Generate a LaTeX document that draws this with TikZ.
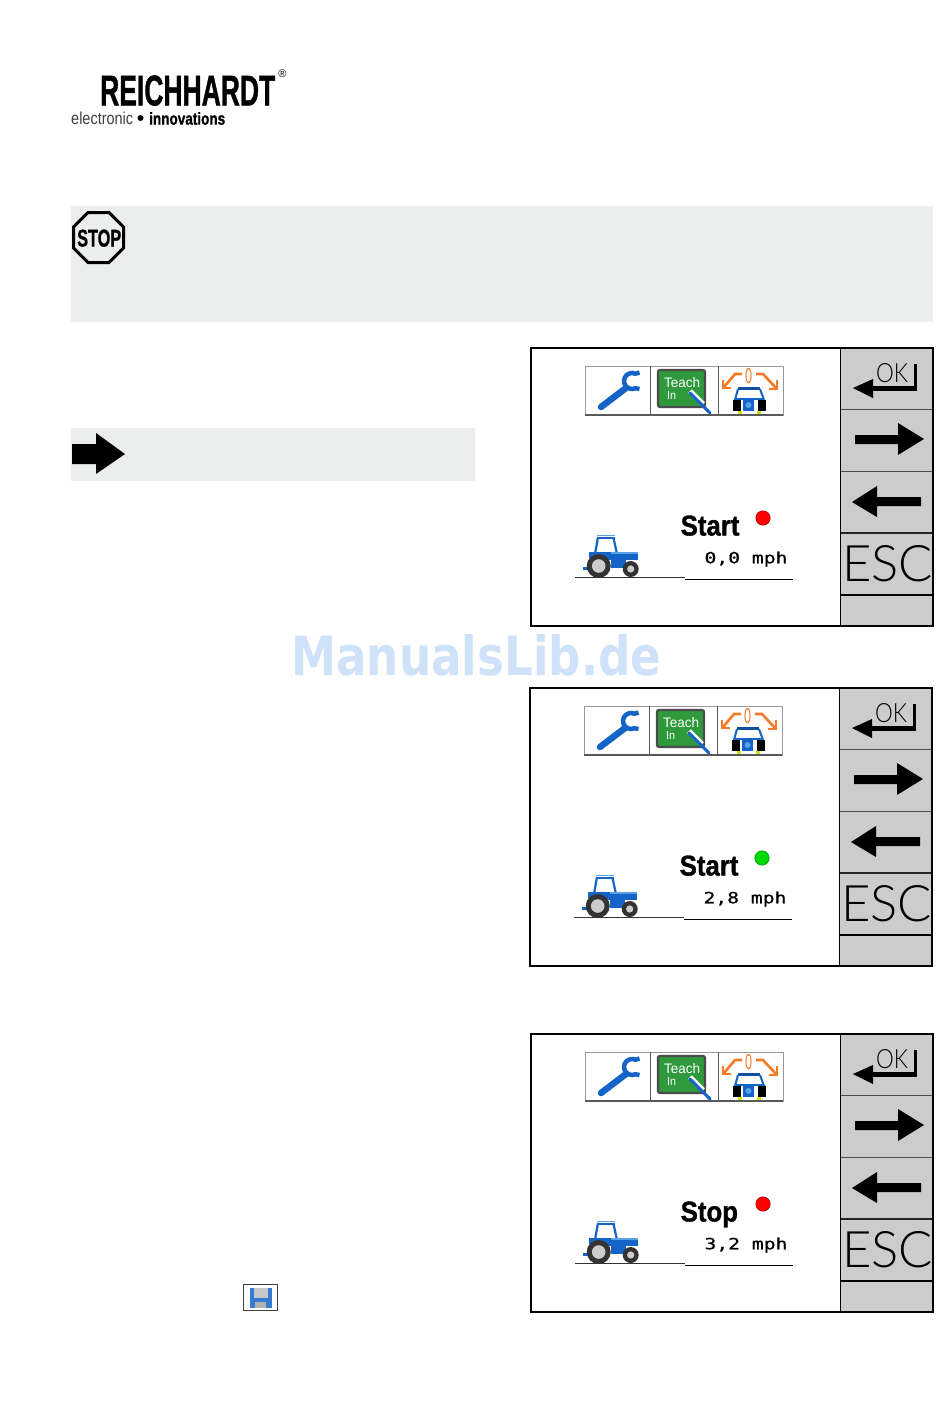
\documentclass[tikz,border=0pt]{standalone}
\usepackage{fontspec}
\usepackage{graphicx}
\usepackage{xcolor}
\setmainfont{Liberation Sans}
\newfontfamily\markfont{DejaVu Sans}
\newfontfamily\monofont[FakeBold=0.6]{DejaVu Sans Mono}
\newfontfamily\thinfont{Lato Light}
\newfontfamily\heavyfont[FakeBold=1.2]{Liberation Sans Bold}
\definecolor{bandgrey}{HTML}{ECEEEE}
\definecolor{keygrey}{HTML}{CCCCCC}
\definecolor{toolblue}{HTML}{1464C8}
\definecolor{lightblue}{HTML}{5AA0E6}
\definecolor{boardgreen}{HTML}{2E9A3C}
\definecolor{tiltorange}{HTML}{F57A28}
\definecolor{markblue}{HTML}{CFE2FA}
\tikzset{
  txt/.style={inner sep=0pt, anchor=south west},
  band/.style={fill=bandgrey, draw=none},
  key/.style={fill=keygrey, draw=none},
  keyline/.style={draw=black!70, line width=1pt},
  keyarrow/.style={fill=black, draw=none},
  tiltarrow/.style={draw=tiltorange, line width=2.6pt, line join=miter}
}
\newcommand{\screenpanel}[6]{
  \begin{scope}[shift={(#1,#2)}, name prefix=#6-]
    \fill[white] (0,0) rectangle (402,278);
    \fill[key] (309,0) rectangle (402,278);
    \draw[keyline] (309,61) -- (402,61);
    \draw[keyline] (309,123) -- (402,123);
    \draw[keyline, line width=1.5pt, draw=black!85] (309,185) -- (402,185);
    \draw[black, line width=2.5pt] (309,247) -- (402,247);
    \draw[black, line width=1pt] (309,0) -- (309,278);
    \draw[black, line width=2pt] (0,0) rectangle (402,278);
    % ok key
    \node[txt] (ok) at (345,35) {\resizebox{32pt}{19pt}{\thinfont OK}};
    \draw[black, line width=2.5pt] (384.5,16) -- (384.5,40);
    \draw[black, line width=5pt] (386,40) -- (340,40);
    \fill[keyarrow] (322,40) -- (342,31) -- (342,50) -- cycle;
    % arrow keys
    \fill[keyarrow] (324,87) -- (367,87) -- (367,75) -- (393,91) -- (367,107) -- (367,96) -- (324,96) -- cycle;
    \fill[keyarrow] (390,149) -- (346,149) -- (346,138) -- (321,154) -- (346,169) -- (346,158) -- (390,158) -- cycle;
    \node[txt] (esc) at (311,234) {\resizebox{91pt}{36pt}{\thinfont ESC}};
    % icon bar
    \fill[white] (54,18) rectangle (252,67);
    \draw[black!40, line width=1pt] (54,18) rectangle (252,67);
    \draw[black!65, line width=1.5pt] (54,67) -- (252,67);
    \draw[black!65, line width=1pt] (119,18) -- (119,67);
    \draw[black!65, line width=1pt] (187,18) -- (187,67);
    % wrench
    \draw[toolblue, line width=6.5pt, line cap=round] (70,59) -- (95,40);
    \draw[toolblue, line width=4.5pt] (108.5,24.5) -- (104.4,25.75) arc (-65:-295:8) -- (108.5,41);
    % teach in board
    \draw[black!70, fill=boardgreen, line width=2.2pt, rounded corners=2pt] (127,22) rectangle (174,59);
    \node[txt] (teach) at (133,40) {\resizebox{36pt}{10pt}{\color{white}Teach}};
    \node[txt] (in) at (136,52) {\resizebox{9pt}{8pt}{\color{white}In}};
    \draw[white, line width=5pt] (159,43) -- (172,56);
    \draw[toolblue, line width=3pt, line cap=round] (159,45) -- (179,65);
    % tilt icon
    \node[inner sep=0pt] (zero) at (217.5,28.5) {\resizebox{7pt}{15pt}{\color{tiltorange}0}};
    \draw[tiltarrow] (211,26) -- (204,26) -- (193,39);
    \draw[tiltarrow] (192,32) -- (192,40) -- (200,40);
    \draw[tiltarrow] (225,26) -- (232,26) -- (245,40);
    \draw[tiltarrow] (246,32) -- (246,41) -- (238,41);
    \fill[toolblue!80!black] (207,39) rectangle (229,42);
    \draw[toolblue, line width=2pt] (204,52) -- (207,41) (233,52) -- (229,41);
    \fill[black] (202,52) rectangle (210,63);
    \fill[black] (227,52) rectangle (235,63);
    \fill[toolblue] (212,50) rectangle (223,63);
    \fill[lightblue] (217.5,57) circle (3);
    \fill[toolblue] (204,50) rectangle (233,52);
    \fill[yellow!80!green] (207,63) rectangle (211,66);
    \fill[yellow!80!green] (226,63) rectangle (230,66);
    % tractor
    \draw[lightblue, line width=1pt] (66,187.5) -- (84,187.5);
    \draw[toolblue, line width=2pt] (66,189.5) -- (84,189.5);
    \draw[toolblue, line width=2.2pt] (67,189) -- (64,206) (82.5,190) -- (86,206);
    \fill[toolblue] (75,205) rectangle (107,212);
    \fill[lightblue] (80,204) rectangle (107,205.5);
    \fill[toolblue] (58,204) rectangle (80,210);
    \fill[toolblue] (80,212) rectangle (95,220);
    \fill[toolblue] (52,219) rectangle (58,221.5);
    \fill[black!80] (67.7,218) circle (12);
    \fill[black!20] (67.7,218) circle (6.8);
    \fill[black!80] (99.7,221) circle (8);
    \fill[black!20] (99.7,221) circle (3.6);
    % road
    \draw[black!80, line width=1.3pt] (44,229.7) -- (154,229.7);
    \draw[black, line width=1pt] (154,231) -- (262,231);
    % readout
    \node[txt, anchor=base west] (state) at (149.5,187.5) {\scalebox{.9}[1]{\resizebox{!}{20pt}{\heavyfont #3}}};
    \draw[#4!70!black, fill=#4, line width=.6pt] (232,170) circle (7.2);
    \node[inner sep=0pt] (speed) at (215,211) {\scalebox{1.27}[1]{\fontsize{15.5pt}{15.5pt}\monofont #5}};
  \end{scope}
}

\begin{document}
\begin{tikzpicture}[x=1pt,y=-1pt]
\useasboundingbox (0,0) rectangle (950,1419);
\fill[white] (0,0) rectangle (950,1419);
% logo
\node[txt] (logo) at (100,106) {\resizebox{175pt}{30pt}{\heavyfont REICHHARDT}};
\node[inner sep=0pt] (reg) at (282.5,73.5) {\fontsize{11pt}{11pt}\selectfont ®};
\node[txt] (slogan) at (71,125) {\resizebox{62pt}{12.5pt}{\color{black!75}electronic}};
\fill[black] (140.5,118) circle (3);
\node[txt] (slogantwo) at (149,125) {\resizebox{76pt}{12.5pt}{\heavyfont innovations}};
% stop band
\fill[band] (71,206) rectangle (933,322);
\draw[black, line width=3pt] (88,212.5) -- (109,212.5) -- (123.5,227) -- (123.5,248) -- (109,262.5) -- (88,262.5) -- (73.5,248) -- (73.5,227) -- cycle;
\node[txt] (stop) at (77,247) {\resizebox{44pt}{17pt}{\heavyfont STOP}};
% arrow band
\fill[band] (71,428) rectangle (475,481);
\fill[keyarrow] (72,444) -- (96,444) -- (96,433) -- (125,454) -- (96,474) -- (96,464) -- (72,464) -- cycle;
% screens
\screenpanel{531}{348}{Start}{red}{0,0 mph}{first}
\screenpanel{530}{688}{Start}{green!85!black}{2,8 mph}{second}
\screenpanel{531}{1034}{Stop}{red}{3,2 mph}{third}
% watermark
\node[txt] (mark) at (291,676) {\resizebox{370pt}{41pt}{\markfont\bfseries\color{markblue}ManualsLib.de}};
% save icon
\draw[black!75, fill=white, line width=1pt] (243,1284.5) rectangle (277,1310);
\fill[toolblue!85!white] (250,1288) rectangle (272,1308);
\fill[black!22] (254,1288) rectangle (268,1298);
\fill[black!30] (255,1302) rectangle (266,1308);
\end{tikzpicture}
\end{document}
